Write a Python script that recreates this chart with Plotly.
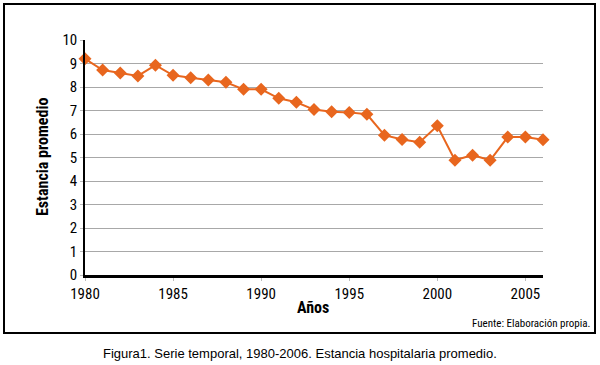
import plotly.graph_objects as go

years = list(range(1980, 2007))
estancia = [9.2, 8.72, 8.6, 8.47, 8.93, 8.5, 8.39, 8.3, 8.2, 7.9, 7.9, 7.52, 7.35,
            7.04, 6.95, 6.92, 6.84, 5.95, 5.77, 5.65, 6.35, 4.88, 5.1, 4.88, 5.87, 5.87, 5.76]
x_ticks = [1980, 1985, 1990, 1995, 2000, 2005]
y_ticks = list(range(0, 11))

NARROW = "Liberation Sans Narrow, Arial Narrow, Roboto Condensed, sans-serif"
ORANGE = "#E8661E"

L, R, T, B = 85, 57, 40, 90
W, H = 600, 365
pw, ph = W - L - R, H - T - B

def px(x):
    return (x - L) / pw

def py(y):
    return (H - B - y) / ph

fig = go.Figure()
fig.add_trace(go.Scatter(
    x=years, y=estancia, mode="lines+markers",
    line=dict(color=ORANGE, width=2),
    marker=dict(symbol="diamond", size=10, color=ORANGE),
    showlegend=False, cliponaxis=False,
))

fig.update_layout(
    width=W, height=H,
    margin=dict(l=L, r=R, t=T, b=B),
    paper_bgcolor="white", plot_bgcolor="white",
    font=dict(family=NARROW, color="black", size=14),
    xaxis=dict(range=[1980, 2006], tickvals=x_ticks, showgrid=False,
               showline=True, linecolor="black", linewidth=2.5,
               ticks="outside", ticklen=3, tickcolor="#bbbbbb",
               tickfont=dict(family=NARROW, size=15), zeroline=False),
    yaxis=dict(range=[0, 10], tickvals=y_ticks, showgrid=True,
               gridcolor="#a8a8a8", gridwidth=1,
               showline=True, linecolor="black", linewidth=1.5,
               ticks="outside", ticklen=3, tickcolor="#bbbbbb",
               tickfont=dict(family=NARROW, size=15), zeroline=False),
    shapes=[dict(type="rect", xref="paper", yref="paper",
                 x0=px(4), x1=px(595), y0=py(333), y1=py(4),
                 line=dict(color="black", width=2), layer="below")],
    annotations=[
        dict(text="<b>Estancia promedio</b>", xref="paper", yref="paper",
             x=px(42), y=py(157), showarrow=False, textangle=-90,
             font=dict(family=NARROW, size=16), xanchor="center", yanchor="middle"),
        dict(text="<b>Años</b>", xref="paper", yref="paper",
             x=px(313), y=py(307), showarrow=False,
             font=dict(family=NARROW, size=16), xanchor="center", yanchor="middle"),
        dict(text="Fuente: Elaboración propia.", xref="paper", yref="paper",
             x=px(592), y=py(323), showarrow=False,
             font=dict(family=NARROW, size=11), xanchor="right", yanchor="middle"),
        dict(text="Figura1. Serie temporal, 1980-2006. Estancia hospitalaria promedio.",
             xref="paper", yref="paper",
             x=px(300), y=py(353), showarrow=False,
             font=dict(family="Liberation Sans, Arial, sans-serif", size=13),
             xanchor="center", yanchor="middle"),
    ],
)

fig.write_html("out.html", config={"displayModeBar": False},
               post_script="document.body.style.margin='0';document.body.style.overflow='hidden';")
